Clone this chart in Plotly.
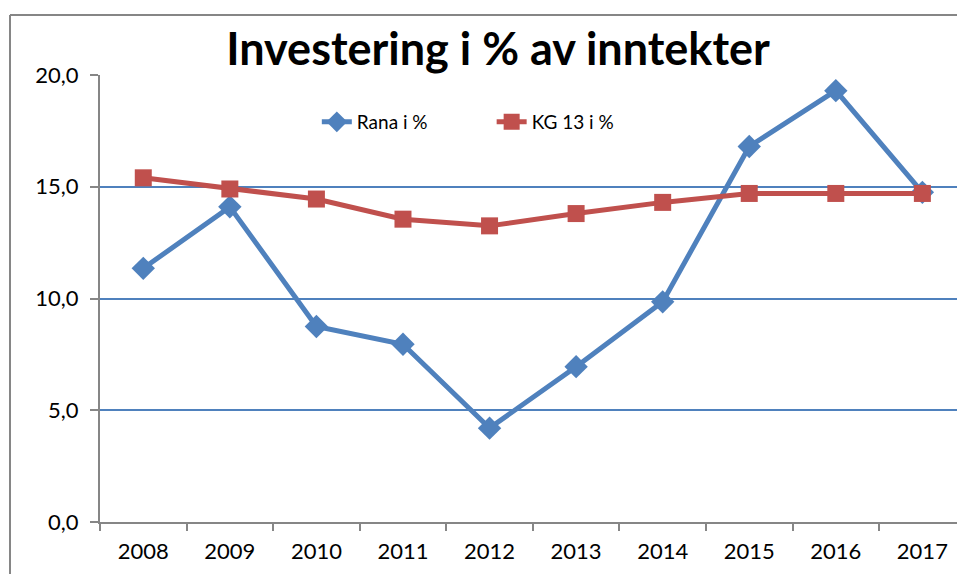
import plotly.graph_objects as go

years = ["2008", "2009", "2010", "2011", "2012", "2013", "2014", "2015", "2016", "2017"]
rana = [11.35, 14.1, 8.75, 7.95, 4.2, 6.95, 9.85, 16.8, 19.3, 14.75]
kg13 = [15.4, 14.9, 14.45, 13.55, 13.25, 13.8, 14.3, 14.7, 14.7, 14.7]
y_ticks = [0, 5, 10, 15, 20]

BLUE = "#4F81BD"
RED = "#C0504D"
FONT = "Lato, 'Liberation Sans', sans-serif"

fig = go.Figure()
fig.add_trace(go.Scatter(
    x=years, y=rana, name="Rana i %", mode="lines+markers",
    line=dict(color=BLUE, width=5),
    marker=dict(symbol="diamond", size=18, color=BLUE),
    legend="legend",
))
fig.add_trace(go.Scatter(
    x=years, y=kg13, name="KG 13 i %", mode="lines+markers",
    line=dict(color=RED, width=5),
    marker=dict(symbol="square", size=17, color=RED),
    legend="legend2",
))

leg_common = dict(orientation="h", y=0.895, xanchor="left", yanchor="middle",
                  font=dict(size=19), bgcolor="rgba(0,0,0,0)")

fx = (10 - 100) / 857
fy = (522 - 15) / 447
frame = dict(color="#868686", width=2)

fig.update_layout(
    width=957, height=574,
    margin=dict(l=100, r=0, t=75, b=52),
    paper_bgcolor="white", plot_bgcolor="white",
    separators=", ",
    font=dict(family=FONT, color="black"),
    title=dict(text="<b>Investering i % av inntekter</b>", x=498 / 957, xanchor="center",
               y=1 - 49 / 574, yanchor="middle",
               font=dict(size=45, family=FONT, color="black")),
    showlegend=True,
    legend=dict(x=0.253, **leg_common),
    legend2=dict(x=0.457, **leg_common),
    xaxis=dict(type="category", range=[-0.5, 9.4], showgrid=False,
               showline=True, linecolor="#868686", linewidth=2,
               ticks="outside", tickson="boundaries", ticklen=7, tickcolor="#868686", tickwidth=2,
               tickfont=dict(size=22), ticklabelstandoff=9, zeroline=False, fixedrange=True),
    yaxis=dict(range=[0, 20], tickvals=y_ticks, tickformat=".1f",
               showgrid=True, gridcolor=BLUE, gridwidth=1.5,
               showline=True, linecolor="#868686", linewidth=2,
               ticks="outside", ticklen=8, tickcolor="#868686", tickwidth=2,
               tickfont=dict(size=22), ticklabelstandoff=7, zeroline=False),
    shapes=[
        dict(type="line", xref="paper", yref="paper", x0=fx, x1=1.1, y0=fy, y1=fy,
             line=frame, layer="below"),
        dict(type="line", xref="paper", yref="paper", x0=fx, x1=fx, y0=-0.2, y1=fy,
             line=frame, layer="below"),
    ],
)

fig.write_html("out.html", config={"displayModeBar": False},
               post_script=("document.documentElement.style.overflow='hidden';"
                            "document.body.style.margin='0';document.body.style.overflow='hidden';"))
